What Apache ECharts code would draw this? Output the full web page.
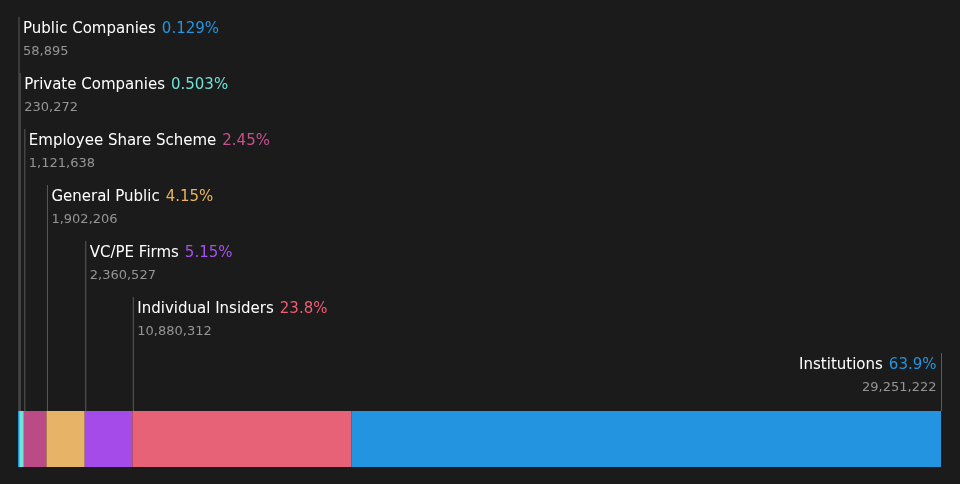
<!DOCTYPE html>
<html><head><meta charset="utf-8">
<script src="https://cdn.jsdelivr.net/npm/echarts@6/dist/echarts.min.js"></script>
<style>html,body{margin:0;padding:0;background:#1b1b1b;}#c{width:960px;height:484px;}</style>
</head><body><div id="c"></div>
<script>
const categories = ['Public Companies','Private Companies','Employee Share Scheme','General Public','VC/PE Firms','Individual Insiders','Institutions'];
const values = [58895, 230272, 1121638, 1902206, 2360527, 10880312, 29251222];
const percentLabels = ['0.129%','0.503%','2.45%','4.15%','5.15%','23.8%','63.9%'];
const valueLabels = ['58,895','230,272','1,121,638','1,902,206','2,360,527','10,880,312','29,251,222'];
const barColors = ['#2394df','#6fe3d6','#bb4b86','#e6b367','#a54be9','#e76177','#2394df'];
const pctColors = ['#2394df','#6fe3d6','#c9508f','#e9b462','#a94ff0','#f05c73','#2394df'];

const total = values.reduce((a,b)=>a+b,0);
const starts = [];
let acc = 0;
values.forEach(v=>{starts.push(acc); acc+=v;});

const chart = echarts.init(document.getElementById('c'));
const font = 'DejaVu Sans';
const series = categories.map((name,i)=>({
  type:'bar', name, stack:'total', barWidth:'100%',
  data:[values[i]],
  itemStyle:{color:barColors[i]},
  silent:true, animation:false
}));
series.push({
  type:'custom', coordinateSystem:'cartesian2d', animation:false, silent:true,
  data: categories.map((c,i)=>[starts[i], values[i], i]),
  clip:false,
  renderItem:(params, api)=>{
    const i = api.value(2);
    const last = i === categories.length-1;
    const s = api.coord([starts[i],0]);
    const e = api.coord([starts[i]+values[i],0]);
    const barTop = s[1] - api.size([0,1])[1]/2;
    const x = last ? e[0]+0.5 : s[0]+1;
    const top = 17 + 56*i;
    const tx = last ? x-5 : x+4;
    const align = last ? 'right' : 'left';
    return {type:'group', children:[
      {type:'line', shape:{x1:x,y1:top,x2:x,y2:barTop}, style:{stroke:'#5a5a5a',lineWidth:1}},
      {type:'text', x:tx, y:top+12, style:{text:'{n|'+categories[i]+'}{p|'+percentLabels[i]+'}', align, verticalAlign:'middle',
        rich:{n:{fill:'#ffffff',fontSize:15,fontFamily:font},p:{fill:pctColors[i],fontSize:15,fontFamily:font,padding:[0,0,0,6]}}}},
      {type:'text', x:tx, y:top+35, style:{text:valueLabels[i], align, verticalAlign:'middle', fill:'#959595', fontSize:13, fontFamily:font}}
    ]};
  }
});
chart.setOption({
  backgroundColor:'#1b1b1b',
  animation:false,
  grid:{left:18,right:19,top:411,bottom:17},
  xAxis:{type:'value',min:0,max:total,show:false},
  yAxis:{type:'category',data:['x'],show:false},
  series
});
</script></body></html>
